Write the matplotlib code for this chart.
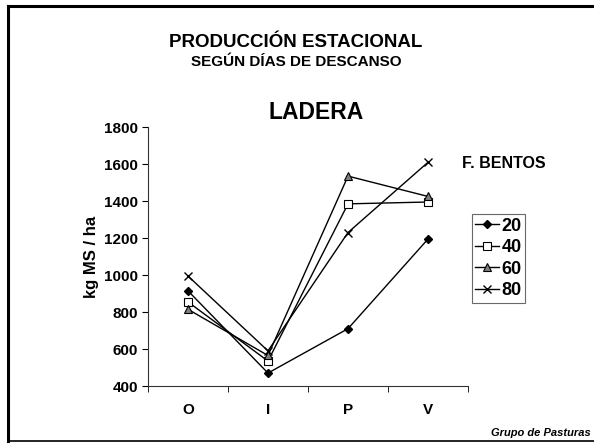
import numpy as np
import matplotlib.pyplot as plt
from matplotlib.lines import Line2D

plt.rcParams['font.family'] = ['Liberation Sans', 'DejaVu Sans']
plt.rcParams['font.weight'] = 'bold'

seasons = ['O', 'I', 'P', 'V']
d20 = [915, 470, 710, 1195]
d40 = [855, 535, 1385, 1395]
d60 = [815, 565, 1535, 1425]
d80 = [995, 590, 1230, 1610]
labels = ['20', '40', '60', '80']

fig = plt.figure(figsize=(5.94, 4.46), dpi=100)
ax = fig.add_axes([0.249, 0.1345, 0.539, 0.5805])

x = np.arange(len(seasons))
ax.plot(x, d20, color='black', lw=1, marker='D', ms=4, mfc='black', mec='black', label=labels[0])
ax.plot(x, d40, color='black', lw=1, marker='s', ms=6, mfc='white', mec='black', mew=0.8, label=labels[1])
ax.plot(x, d60, color='black', lw=1, marker='^', ms=6, mfc='#808080', mec='black', mew=0.8, label=labels[2])
ax.plot(x, d80, color='black', lw=1, marker='x', ms=6, mec='black', mew=1, label=labels[3])

ax.set_xlim(-0.5, 3.5)
ax.set_ylim(400, 1800)
ax.set_yticks(np.arange(400, 1801, 200))
ax.set_xticks(x)
ax.set_xticklabels(seasons)
ax.set_xticks(np.arange(-0.5, 3.6, 1), minor=True)
ax.tick_params(axis='x', which='major', length=0, pad=12, labelsize=11)
ax.tick_params(axis='x', which='minor', length=4, direction='out')
ax.tick_params(axis='y', length=4, direction='out', labelsize=11, pad=3)
for s in ['top', 'right']:
    ax.spines[s].set_visible(False)
ax.spines['left'].set_color('#333333')
ax.spines['bottom'].set_color('#333333')
ax.set_ylabel('kg MS / ha', fontsize=12, fontweight='bold', labelpad=4)

leg = ax.legend(loc='upper left', bbox_to_anchor=(0.995, 0.685), frameon=True, fancybox=False,
                edgecolor='#444444', fontsize=13, handlelength=1.3, handletextpad=0.15,
                labelspacing=0.25, borderpad=0.2, borderaxespad=0.3)
leg.get_frame().set_linewidth(0.8)

fig.text(0.498, 0.905, 'PRODUCCIÓN ESTACIONAL', ha='center', va='center', fontsize=13.5, fontweight='bold')
fig.text(0.499, 0.861, 'SEGÚN DÍAS DE DESCANSO', ha='center', va='center', fontsize=11, fontweight='bold')
fig.text(0.532, 0.748, 'LADERA', ha='center', va='center', fontsize=16.5, fontweight='bold')
fig.text(0.778, 0.634, 'F. BENTOS', ha='left', va='center', fontsize=11.5, fontweight='bold')
fig.text(0.995, 0.03, 'Grupo de Pasturas', ha='right', va='center', fontsize=8, fontweight='bold', style='italic')

# page frame lines
fig.add_artist(Line2D([0.013, 1.0], [0.987, 0.987], color='black', lw=2.2, transform=fig.transFigure))
fig.add_artist(Line2D([0.014, 0.014], [0.011, 0.987], color='black', lw=2.2, transform=fig.transFigure))
fig.add_artist(Line2D([0.013, 1.0], [0.011, 0.011], color='black', lw=1.2, transform=fig.transFigure))

fig.savefig('out.png', dpi=100)
